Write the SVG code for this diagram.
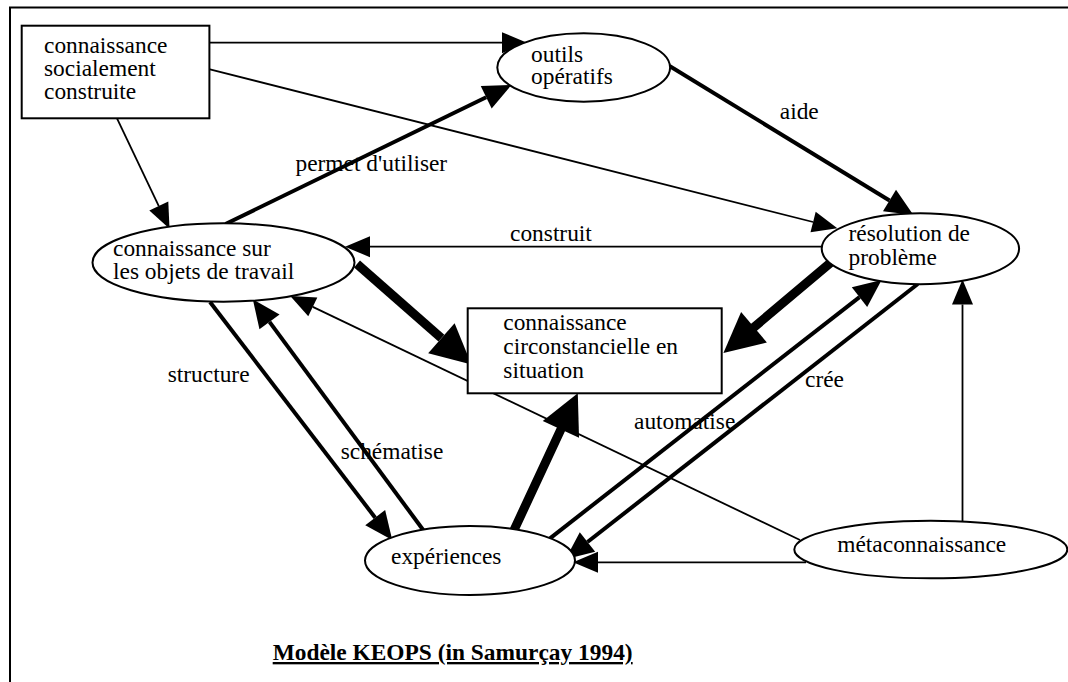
<svg xmlns="http://www.w3.org/2000/svg" width="1068" height="682" viewBox="0 0 1068 682">
<style>
text{font-family:"Liberation Serif","Tinos","Times New Roman","DejaVu Serif",serif;font-size:23.4px;fill:#000}
.node rect,.node ellipse{fill:#fff;stroke:#000;stroke-width:2}
.thin{fill:none;stroke:#000;stroke-width:1.8;marker-end:url(#ah-thin)}
.med{fill:none;stroke:#000;stroke-width:4;marker-end:url(#ah-med)}
.thick{fill:none;stroke:#000;stroke-width:9;marker-end:url(#ah-thick)}
.title{font-weight:bold;text-decoration:underline}
</style>
<defs>
<marker id="ah-thin" markerUnits="userSpaceOnUse" markerWidth="30" markerHeight="30" refX="0" refY="0" orient="auto" overflow="visible"><path d="M0,-10.5 L25,0 L0,10.5 Z" fill="#000"/></marker>
<marker id="ah-med" markerUnits="userSpaceOnUse" markerWidth="30" markerHeight="30" refX="0" refY="0" orient="auto" overflow="visible"><path d="M0,-12.5 L28,0 L0,12.5 Z" fill="#000"/></marker>
<marker id="ah-thick" markerUnits="userSpaceOnUse" markerWidth="44" markerHeight="44" refX="0" refY="0" orient="auto" overflow="visible"><path d="M0,-20 L40,0 L0,20 Z" fill="#000"/></marker>
</defs>
<rect x="0" y="0" width="1068" height="682" fill="#fff"/>
<path d="M10,682 V7.5 H1068" fill="none" stroke="#000" stroke-width="2"/>

<g id="connectors">
<path class="thin" d="M206,42.7 L502,42.7"/>
<path class="thin" d="M206,68.3 L813.1,222"/>
<path class="thin" d="M117,118.3 L158.8,206.1"/>
<path class="med" d="M225.5,224 L486.2,97.3"/>
<path class="med" d="M669.5,66 L889.5,200.5"/>
<path class="thin" d="M821.7,246.7 L370,246.7"/>
<path class="thick" d="M357,264 L441.4,338.2"/>
<path class="thick" stroke-linecap="round" d="M831.7,261.7 L754,327.2"/>
<path class="thick" stroke-linecap="round" d="M512.5,533.3 L560.9,429.4"/>
<path class="med" d="M210,302 L375.2,517.7"/>
<path class="med" d="M423.2,530 L269.5,321.9"/>
<path class="thin" d="M800,540 L312.8,306.9"/>
<path class="med" d="M550,538.3 L859.5,297.1"/>
<path class="med" d="M917.8,284 L587.5,542"/>
<path class="thin" d="M806,562.3 L598,562.3"/>
<path class="thin" d="M962.5,521.5 L962.5,304.5"/>
</g>

<g id="edge-labels">
<text x="295.5" y="170.7">permet d'utiliser</text>
<text x="779.8" y="119">aide</text>
<text x="510" y="241">construit</text>
<text x="167.7" y="382.3">structure</text>
<text x="340.7" y="459.3">schématise</text>
<text x="634" y="429.3">automatise</text>
<text x="805" y="386.7">crée</text>
</g>

<g id="node-socialement" class="node">
<rect x="21.7" y="25.7" width="187.7" height="92.6"/>
<text x="44" y="52.7">connaissance</text>
<text x="44" y="76">socialement</text>
<text x="44" y="99.3">construite</text>
</g>

<g id="node-outils" class="node">
<ellipse cx="583.7" cy="67.5" rx="86.4" ry="34.2"/>
<text x="531" y="61.7">outils</text>
<text x="531" y="83.5">opératifs</text>
</g>

<g id="node-objets" class="node">
<ellipse cx="223.5" cy="262.5" rx="131" ry="39.2"/>
<text x="113" y="256">connaissance sur</text>
<text x="113" y="279.3">les objets de travail</text>
</g>

<g id="node-resolution" class="node">
<ellipse cx="920.4" cy="248.7" rx="98.7" ry="35.5"/>
<text x="848.5" y="240.7">résolution de</text>
<text x="848.5" y="265">problème</text>
</g>

<g id="node-circonstancielle" class="node">
<rect x="467.7" y="308.3" width="254" height="85"/>
<text x="503.3" y="330">connaissance</text>
<text x="503.3" y="354">circonstancielle en</text>
<text x="503.3" y="377.7">situation</text>
</g>

<g id="node-experiences" class="node">
<ellipse cx="470" cy="560.5" rx="105" ry="34.5"/>
<text x="391" y="564.3">expériences</text>
</g>

<g id="node-meta" class="node">
<ellipse cx="930.8" cy="549.5" rx="136.5" ry="28.8"/>
<text x="837.3" y="552.3">métaconnaissance</text>
</g>

<text class="title" x="272.7" y="660">Modèle KEOPS (in Samurçay 1994)</text>
</svg>
